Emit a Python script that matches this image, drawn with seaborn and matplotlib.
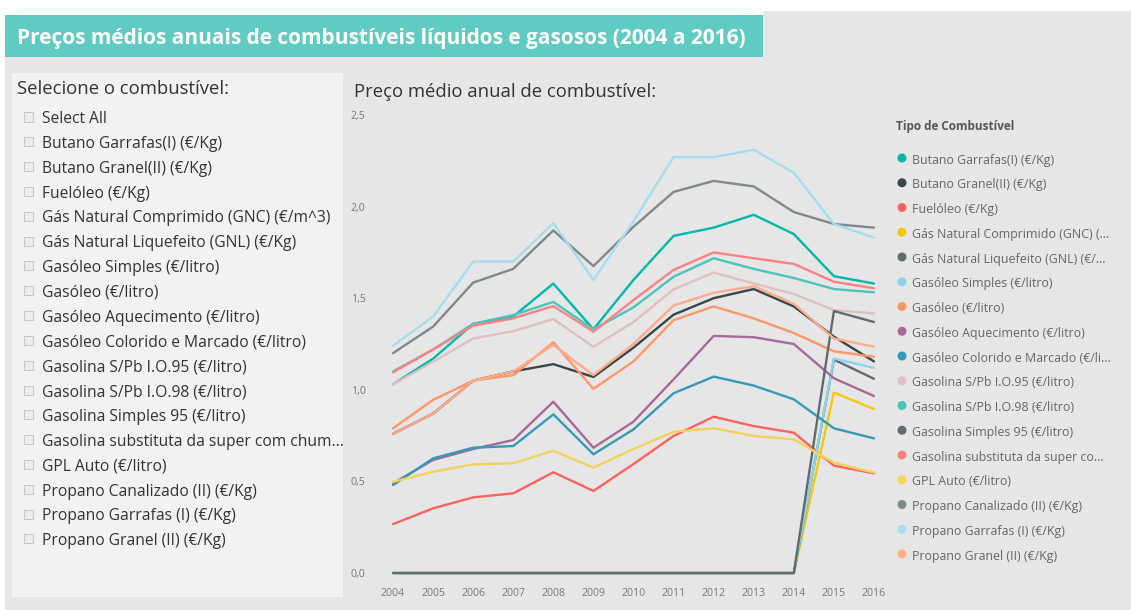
import matplotlib
matplotlib.use("Agg")
import matplotlib.pyplot as plt
from matplotlib.patches import Rectangle, Ellipse
from matplotlib import font_manager
import pandas as pd
import seaborn as sns

# ---- data -------------------------------------------------------------
years = list(range(2004, 2017))

fuel_names = [
    "Butano Garrafas(I) (€/Kg)",
    "Butano Granel(II) (€/Kg)",
    "Fuelóleo (€/Kg)",
    "Gás Natural Comprimido (GNC) (€/m^3)",
    "Gás Natural Liquefeito (GNL) (€/Kg)",
    "Gasóleo Simples (€/litro)",
    "Gasóleo (€/litro)",
    "Gasóleo Aquecimento (€/litro)",
    "Gasóleo Colorido e Marcado (€/litro)",
    "Gasolina S/Pb I.O.95 (€/litro)",
    "Gasolina S/Pb I.O.98 (€/litro)",
    "Gasolina Simples 95 (€/litro)",
    "Gasolina substituta da super com chumbo (€/litro)",
    "GPL Auto (€/litro)",
    "Propano Canalizado (II) (€/Kg)",
    "Propano Garrafas (I) (€/Kg)",
    "Propano Granel (II) (€/Kg)",
]

legend_labels = [
    "Butano Garrafas(I) (€/Kg)",
    "Butano Granel(II) (€/Kg)",
    "Fuelóleo (€/Kg)",
    "Gás Natural Comprimido (GNC) (...",
    "Gás Natural Liquefeito (GNL) (€/...",
    "Gasóleo Simples (€/litro)",
    "Gasóleo (€/litro)",
    "Gasóleo Aquecimento (€/litro)",
    "Gasóleo Colorido e Marcado (€/li...",
    "Gasolina S/Pb I.O.95 (€/litro)",
    "Gasolina S/Pb I.O.98 (€/litro)",
    "Gasolina Simples 95 (€/litro)",
    "Gasolina substituta da super co...",
    "GPL Auto (€/litro)",
    "Propano Canalizado (II) (€/Kg)",
    "Propano Garrafas (I) (€/Kg)",
    "Propano Granel (II) (€/Kg)",
]

slicer_labels = [
    "Select All",
    "Butano Garrafas(I) (€/Kg)",
    "Butano Granel(II) (€/Kg)",
    "Fuelóleo (€/Kg)",
    "Gás Natural Comprimido (GNC) (€/m^3)",
    "Gás Natural Liquefeito (GNL) (€/Kg)",
    "Gasóleo Simples (€/litro)",
    "Gasóleo (€/litro)",
    "Gasóleo Aquecimento (€/litro)",
    "Gasóleo Colorido e Marcado (€/litro)",
    "Gasolina S/Pb I.O.95 (€/litro)",
    "Gasolina S/Pb I.O.98 (€/litro)",
    "Gasolina Simples 95 (€/litro)",
    "Gasolina substituta da super com chum...",
    "GPL Auto (€/litro)",
    "Propano Canalizado (II) (€/Kg)",
    "Propano Garrafas (I) (€/Kg)",
    "Propano Granel (II) (€/Kg)",
]

butano_garrafas = [1.03, 1.17, 1.36, 1.40, 1.58, 1.33, 1.60, 1.84, 1.885, 1.955, 1.85, 1.62, 1.58]
butano_granel = [0.76, 0.87, 1.05, 1.10, 1.14, 1.07, 1.23, 1.41, 1.50, 1.55, 1.455, 1.29, 1.155]
fueloleo = [0.267, 0.353, 0.413, 0.435, 0.55, 0.448, 0.595, 0.748, 0.853, 0.802, 0.766, 0.586, 0.544]
gnc = [0, 0, 0, 0, 0, 0, 0, 0, 0, 0, 0, 0.985, 0.895]
gnl = [0, 0, 0, 0, 0, 0, 0, 0, 0, 0, 0, 1.165, 1.06]
gasoleo_simples = [0, 0, 0, 0, 0, 0, 0, 0, 0, 0, 0, 1.17, 1.12]
gasoleo = [0.79, 0.945, 1.05, 1.08, 1.26, 1.005, 1.155, 1.38, 1.455, 1.39, 1.31, 1.21, 1.18]
gasoleo_aquecimento = [0.49, 0.617, 0.677, 0.726, 0.935, 0.684, 0.826, 1.057, 1.294, 1.287, 1.25, 1.063, 0.966]
gasoleo_colorido = [0.48, 0.626, 0.684, 0.693, 0.866, 0.648, 0.784, 0.981, 1.072, 1.023, 0.948, 0.79, 0.735]
gasolina_95 = [1.03, 1.153, 1.28, 1.32, 1.386, 1.235, 1.37, 1.548, 1.64, 1.58, 1.523, 1.435, 1.417]
gasolina_98 = [1.10, 1.22, 1.36, 1.408, 1.48, 1.33, 1.45, 1.617, 1.718, 1.66, 1.61, 1.55, 1.532]
gasolina_simples_95 = [0, 0, 0, 0, 0, 0, 0, 0, 0, 0, 0, 1.43, 1.37]
gasolina_substituta = [1.095, 1.22, 1.35, 1.39, 1.457, 1.317, 1.49, 1.654, 1.75, 1.718, 1.687, 1.59, 1.554]
gpl_auto = [0.498, 0.553, 0.593, 0.599, 0.668, 0.575, 0.677, 0.771, 0.79, 0.748, 0.73, 0.602, 0.548]
propano_canalizado = [1.20, 1.345, 1.585, 1.66, 1.87, 1.675, 1.89, 2.08, 2.14, 2.11, 1.97, 1.905, 1.885]
propano_garrafas = [1.24, 1.40, 1.70, 1.70, 1.91, 1.60, 1.92, 2.27, 2.27, 2.31, 2.185, 1.905, 1.83]
propano_granel = [0.76, 0.87, 1.05, 1.10, 1.245, 1.08, 1.25, 1.46, 1.53, 1.565, 1.47, 1.28, 1.235]

series_values = [
    butano_garrafas, butano_granel, fueloleo, gnc, gnl, gasoleo_simples,
    gasoleo, gasoleo_aquecimento, gasoleo_colorido, gasolina_95, gasolina_98,
    gasolina_simples_95, gasolina_substituta, gpl_auto, propano_canalizado,
    propano_garrafas, propano_granel,
]

palette = [
    "#01B8AA", "#374649", "#FD625E", "#F2C80F", "#5F6B6D", "#8AD4EB",
    "#FE9666", "#A66999", "#3599B8", "#DFBFBF", "#4AC5BB", "#5F6B6D",
    "#FB8281", "#F4D25A", "#7F898A", "#A4DDEE", "#FDAB89",
]

y_ticks = [0.0, 0.5, 1.0, 1.5, 2.0, 2.5]

# ---- long table for seaborn -------------------------------------------
rows = []
for name, vals in zip(fuel_names, series_values):
    for yr, v in zip(years, vals):
        rows.append({"Ano": yr, "Preço": v, "Combustível": name})
df = pd.DataFrame(rows)

# ---- style --------------------------------------------------------------
W, H = 1131, 610
sns.set_theme(style="white")
available = {f.name for f in font_manager.fontManager.ttflist}
BASE = "Open Sans" if "Open Sans" in available else "DejaVu Sans"
NARROW = "Liberation Sans Narrow" if "Liberation Sans Narrow" in available else BASE
plt.rcParams["font.family"] = [BASE, "DejaVu Sans"]

fig = plt.figure(figsize=(W / 100, H / 100), dpi=100)
fig.patch.set_facecolor("white")
renderer = fig.canvas.get_renderer()
DY = 2.2  # vertical-centre correction for text placed by pixel rows


def fx(x):
    return x / W


def fy(y):
    return 1 - y / H


def rect(x0, y0, x1, y1, color, edge="none", lw=0, z=0):
    fig.add_artist(Rectangle((fx(x0), fy(y1)), (x1 - x0) / W, (y1 - y0) / H,
                             transform=fig.transFigure, facecolor=color,
                             edgecolor=edge, linewidth=lw, zorder=z))


def size_for(text, width_px, **kw):
    t = fig.text(0, 0, text, fontsize=10, **kw)
    w = t.get_window_extent(renderer).width
    t.remove()
    return 10 * width_px / w


# page background, title band and slicer panel
rect(5, 15, W, H, "#E6E6E6")
rect(763, 11, W, 15, "#E6E6E6")
rect(5, 15, 763, 57, "#60CBC2", z=1)
rect(12, 73, 343, 597, "#F2F2F2", z=1)

title = "Preços médios anuais de combustíveis líquidos e gasosos (2004 a 2016)"
fs = size_for(title, 732, fontweight="bold")
fig.text(fx(17), fy(36 + DY), title, fontsize=fs, fontweight="bold", color="white",
         va="center", ha="left", zorder=3)

# slicer
head = "Selecione o combustível:"
fs = size_for(head, 211)
fig.text(fx(17), fy(87 + DY), head, fontsize=fs, color="#333333", va="center", zorder=3)

fs_item = size_for("Butano Garrafas(I) (€/Kg)", 179)
for i, lab in enumerate(slicer_labels):
    yc = 117 + i * 24.82
    rect(24, yc - 4.5, 33, yc + 4.5, "#EDEDED", edge="#C8C8C8", lw=0.8, z=2)
    fig.text(fx(42), fy(yc + DY), lab, fontsize=fs_item, color="#333333",
             va="center", ha="left", zorder=3)

# chart title
ctitle = "Preço médio anual de combustível:"
fs = size_for(ctitle, 302)
fig.text(fx(354), fy(90 + DY), ctitle, fontsize=fs, color="#333333", va="center", zorder=3)

# ---- line chart -------------------------------------------------------
x_lo, x_hi = 2003.8, 2016.2
y_lo, y_hi = -0.05, 2.55
ax = fig.add_axes([fx(385), fy(582.2), 497 / W, (582.2 - 105.8) / H])
ax.set_facecolor("none")
ax.set_zorder(4)
sns.lineplot(data=df, x="Ano", y="Preço", hue="Combustível", hue_order=fuel_names,
             palette=palette, linewidth=1.7, errorbar=None, legend=False, ax=ax)
ax.set_xlim(x_lo, x_hi)
ax.set_ylim(y_lo, y_hi)
ax.set_xlabel("")
ax.set_ylabel("")
for s in ax.spines.values():
    s.set_visible(False)
ax.grid(False)

fs_tick = size_for("2004", 24, family=NARROW)
ax.set_xticks(years)
ax.set_xticklabels([str(y) for y in years], family=NARROW, fontsize=fs_tick, color="#777777")
ax.set_yticks(y_ticks)
ax.set_yticklabels([f"{v:.1f}".replace(".", ",") for v in y_ticks], family=NARROW,
                   fontsize=fs_tick, color="#777777")
ax.tick_params(axis="x", length=0, pad=4)
ax.tick_params(axis="y", length=0, pad=14)

# ---- legend -----------------------------------------------------------
fs_lt = size_for("Tipo de Combustível", 119, fontweight="bold")
fig.text(fx(896), fy(124 + DY), "Tipo de Combustível", fontsize=fs_lt, fontweight="bold",
         color="#555555", va="center", zorder=3)
fs_li = size_for("Butano Garrafas(I) (€/Kg)", 143)
for i, (lab, col) in enumerate(zip(legend_labels, palette)):
    yc = 158 + i * 24.75
    fig.add_artist(Ellipse((fx(902), fy(yc)), 9 / W, 9 / H, transform=fig.transFigure,
                           facecolor=col, edgecolor="none", zorder=3))
    fig.text(fx(912), fy(yc + DY), lab, fontsize=fs_li, color="#666666",
             va="center", ha="left", zorder=3)

fig.savefig("out.png", dpi=100)
